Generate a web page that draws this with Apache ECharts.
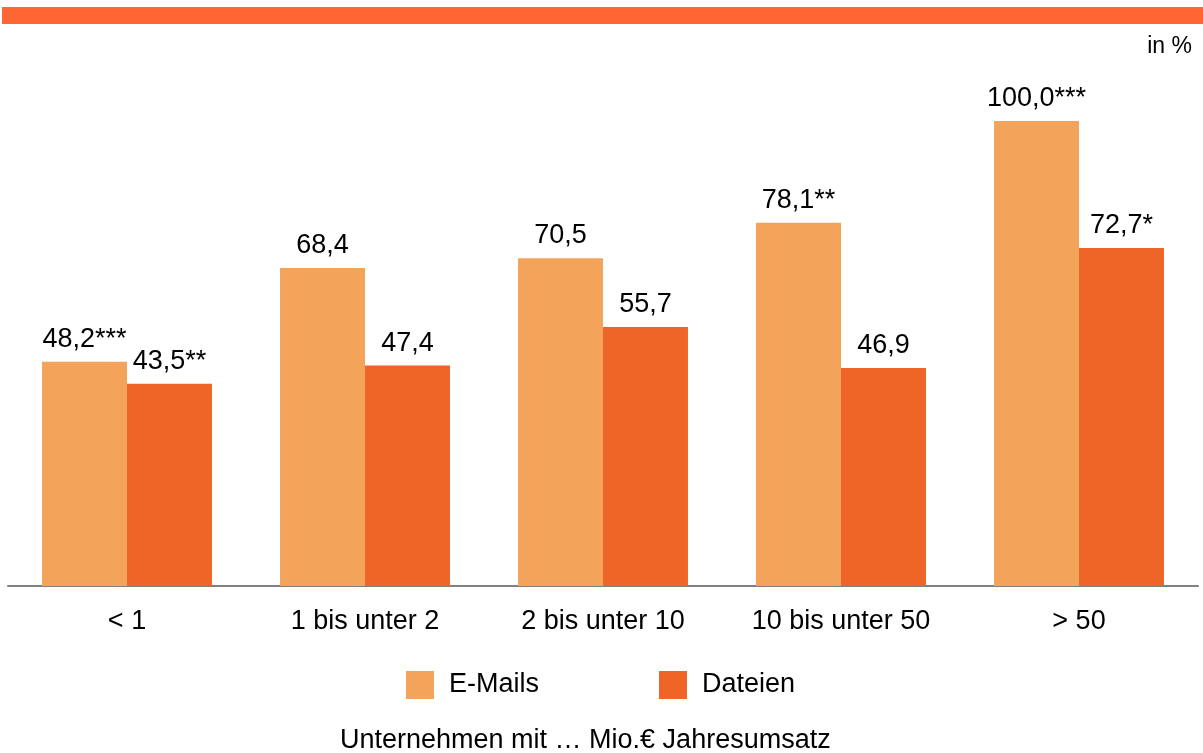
<!DOCTYPE html>
<html>
<head>
<meta charset="utf-8">
<script src="https://cdn.jsdelivr.net/npm/echarts@6/dist/echarts.min.js"></script>
<style>
	html, body { margin: 0; padding: 0; background: #fff; }
	#chart { width: 1203px; height: 753px; }
</style>
</head>
<body>
<div id="chart"></div>
<script>
	// Kategorien (Mio. € Jahresumsatz)
	var categories = ['< 1', '1 bis unter 2', '2 bis unter 10', '10 bis unter 50', '> 50'];
	// Werte in %
	var emails = [48.2, 68.4, 70.5, 78.1, 100.0];
	var dateien = [43.5, 47.4, 55.7, 46.9, 72.7];
	// Signifikanz-Sternchen
	var emailsStars = ['***', '', '', '**', '***'];
	var dateienStars = ['**', '', '', '', '*'];

	var chart = echarts.init(document.getElementById('chart'));
	var font = 'Liberation Sans, Arial, sans-serif';

	function labelFor(stars) {
		return {
			show: true,
			position: 'top',
			distance: 9,
			color: '#000',
			fontSize: 27,
			fontFamily: font,
			formatter: function (p) {
				return p.value.toFixed(1).replace('.', ',') + stars[p.dataIndex];
			}
		};
	}

	chart.setOption({
		animation: false,
		graphic: [{
			type: 'rect',
			shape: { x: 2, y: 7, width: 1201, height: 17 },
			style: { fill: '#FF6633' }
		}, {
			type: 'text',
			right: 11,
			top: 35,
			style: { text: 'in %', fontSize: 23, fontFamily: font, fill: '#000' }
		}, {
			type: 'text',
			left: 340,
			top: 727,
			style: { text: 'Unternehmen mit … Mio.€ Jahresumsatz', fontSize: 27, fontFamily: font, fill: '#000' }
		}],
		legend: {
			left: 401,
			top: 666,
			itemWidth: 28,
			itemHeight: 28,
			itemGap: 120,
			icon: 'rect',
			textStyle: { fontSize: 27, fontFamily: font, color: '#000', padding: [8, 0, 0, 10] },
			data: ['E-Mails', 'Dateien']
		},
		grid: { left: 8, right: 5, top: 121, bottom: 167 },
		xAxis: {
			type: 'category',
			data: categories,
			axisLine: { lineStyle: { color: '#808080', width: 2 } },
			axisTick: { show: false },
			axisLabel: { color: '#000', fontSize: 27, fontFamily: font, margin: 22 }
		},
		yAxis: {
			type: 'value',
			min: 0,
			max: 100,
			show: false,
			splitLine: { show: false }
		},
		series: [{
			name: 'E-Mails',
			type: 'bar',
			data: emails,
			barGap: '0%',
			barCategoryGap: '28.6%',
			itemStyle: { color: '#F4A35A' },
			label: labelFor(emailsStars)
		}, {
			name: 'Dateien',
			type: 'bar',
			data: dateien,
			itemStyle: { color: '#EF6427' },
			label: labelFor(dateienStars)
		}]
	});
</script>
</body>
</html>
